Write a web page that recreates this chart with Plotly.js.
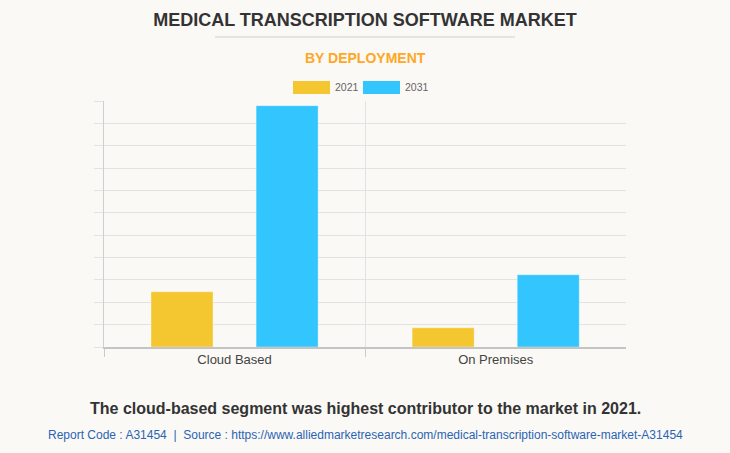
<!DOCTYPE html>
<html>
<head>
<meta charset="utf-8">
<script src="https://cdn.plot.ly/plotly-3.0.1.min.js"></script>
<style>
html,body{margin:0;padding:0;background:#faf9f5;}
#chart{width:730px;height:453px;}
</style>
</head>
<body>
<div id="chart"></div>
<script>
const categories = ["Cloud Based", "On Premises"];
const seriesNames = ["2021", "2031"];
const values2021 = [2.47, 0.86];
const values2031 = [10.79, 3.23];
const colors = ["#F4C731", "#33C5FD"];

const W = 730, H = 453;
const mL = 104, mR = 104, mT = 101, mB = 106;

const traces = [
  {type: "bar", name: seriesNames[0], x: categories, y: values2021,
   marker: {color: colors[0], line: {color: "rgba(255,255,255,0.35)", width: 1}},
   showlegend: false, hoverinfo: "none"},
  {type: "bar", name: seriesNames[1], x: categories, y: values2031,
   marker: {color: colors[1], line: {color: "rgba(255,255,255,0.35)", width: 1}},
   showlegend: false, hoverinfo: "none"}
];

const legX = [[293, 330], [363, 400]];
const px2x = p => (p - mL) / (W - mL - mR);
const px2y = p => (H - mB - p) / (H - mT - mB);
const shapes = [
  {type: "line", xref: "paper", yref: "paper",
   x0: px2x(215), x1: px2x(515), y0: px2y(37), y1: px2y(37),
   line: {color: "#d0d0d0", width: 1}}
];
const annotations = [];
seriesNames.forEach((n, i) => {
  shapes.push({type: "rect", xref: "paper", yref: "paper",
    x0: px2x(legX[i][0]), x1: px2x(legX[i][1]), y0: px2y(94), y1: px2y(81),
    fillcolor: colors[i], line: {width: 0}});
  annotations.push({xref: "paper", yref: "paper", x: px2x(legX[i][1] + 3), y: px2y(87.5),
    xanchor: "left", yanchor: "middle", showarrow: false, text: n,
    font: {family: "Liberation Sans, Arial, sans-serif", size: 10.5, color: "#666"}});
});
annotations.push({xref: "paper", yref: "paper", x: px2x(365), y: px2y(58),
  xanchor: "center", yanchor: "middle", showarrow: false, text: "<b>BY DEPLOYMENT</b>",
  font: {family: "Liberation Sans, Arial, sans-serif", size: 14, color: "#FFA726"}});
annotations.push({xref: "paper", yref: "paper", x: px2x(365), y: px2y(408),
  xanchor: "center", yanchor: "middle", showarrow: false,
  text: "<b>The cloud-based segment was highest contributor to the market in 2021.</b>",
  font: {family: "Liberation Sans, Arial, sans-serif", size: 16, color: "#333"}});
annotations.push({xref: "paper", yref: "paper", x: px2x(365), y: px2y(435),
  xanchor: "center", yanchor: "middle", showarrow: false,
  text: "Report Code : A31454  |  Source : https://www.alliedmarketresearch.com/medical-transcription-software-market-A31454",
  font: {family: "Liberation Sans, Arial, sans-serif", size: 12, color: "#2A64B4"}});

const layout = {
  width: W, height: H,
  margin: {l: mL, r: mR, t: mT, b: mB, pad: 0},
  paper_bgcolor: "#faf9f5", plot_bgcolor: "#faf9f5",
  title: {text: "<b>MEDICAL TRANSCRIPTION SOFTWARE MARKET</b>",
    x: 0.5, xanchor: "center", y: 1 - 20 / H, yanchor: "middle",
    font: {family: "Liberation Sans, Arial, sans-serif", size: 18, color: "#333"}},
  barmode: "group", bargap: 0.195, bargroupgap: 0.41,
  xaxis: {type: "category", range: [-0.5, 1.499], tickson: "boundaries",
    ticks: "outside", ticklen: 8, tickcolor: "#ccc",
    showgrid: true, gridcolor: "#e2e2e2",
    showline: true, linecolor: "#c4c4c4", linewidth: 1.5,
    tickfont: {family: "Liberation Sans, Arial, sans-serif", size: 13, color: "#444"},
    fixedrange: true},
  yaxis: {range: [0, 11], dtick: 1, showticklabels: false,
    ticks: "outside", ticklen: 9, tickcolor: "#e2e2e2",
    showgrid: true, gridcolor: "#e2e2e2", zeroline: false,
    showline: true, linecolor: "#cfcfcf", linewidth: 1,
    fixedrange: true},
  shapes: shapes, annotations: annotations,
  showlegend: false
};

Plotly.newPlot("chart", traces, layout, {displayModeBar: false, staticPlot: true});
</script>
</body>
</html>
